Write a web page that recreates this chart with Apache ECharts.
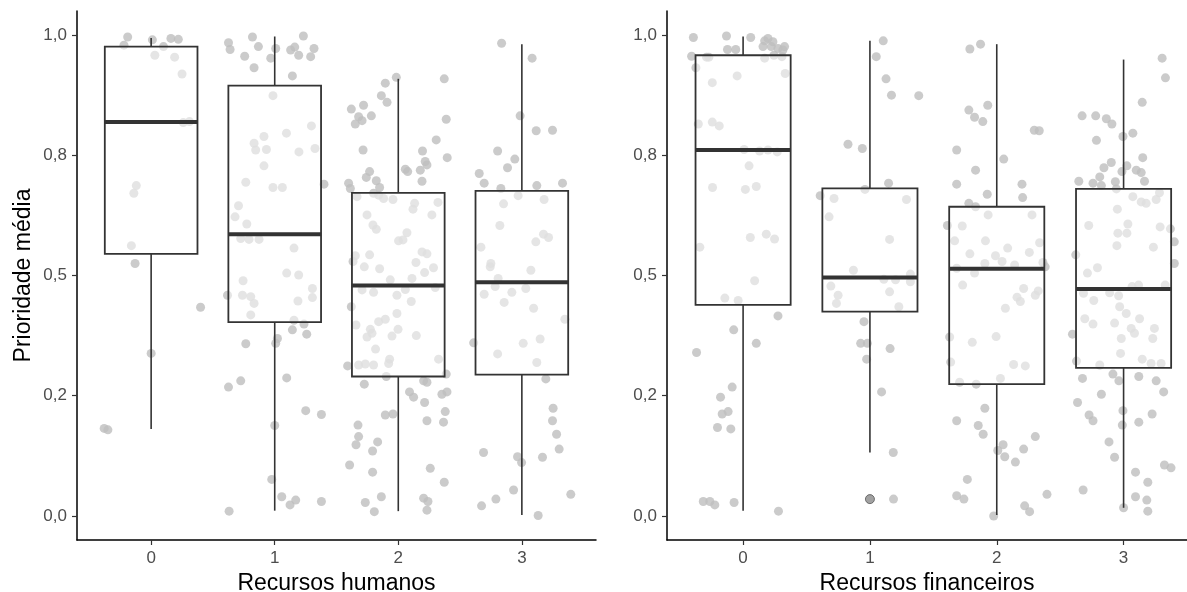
<!DOCTYPE html>
<html>
<head>
<meta charset="utf-8">
<script src="https://cdn.jsdelivr.net/npm/echarts@6/dist/echarts.min.js"></script>
<style>
html,body{margin:0;padding:0;background:#fff;}
#chart{width:1187px;height:592px;}
</style>
</head>
<body>
<div id="chart"></div>
<script>
// ---------- data ----------
const categories = ['0', '1', '2', '3'];
const categoryValues = [0, 1, 2, 3];
const yTickValues = [0, 0.25, 0.5, 0.75, 1];
const yTickLabels = ['0,0', '0,2', '0,5', '0,8', '1,0'];
const xTitleLeft = 'Recursos humanos';
const xTitleRight = 'Recursos financeiros';
const yTitle = 'Prioridade média';

// box stats per category: [lower whisker, Q1, median, Q3, upper whisker]
const boxHumanos = [
  [0.181, 0.545, 0.819, 0.976, 0.994],
  [0.011, 0.403, 0.586, 0.895, 0.997],
  [0.010, 0.290, 0.479, 0.672, 0.909],
  [0.002, 0.294, 0.486, 0.676, 0.981]
];
const boxFinanceiros = [
  [0.011, 0.439, 0.761, 0.958, 0.997],
  [0.132, 0.425, 0.496, 0.681, 0.988],
  [0.002, 0.274, 0.514, 0.643, 0.981],
  [0.017, 0.308, 0.472, 0.680, 0.949]
];
const outliersFinanceiros = [[1, 0.035]];

// jittered observations per category: [horizontal jitter, value]
const rh0 = [[-0.19,0.996],[-0.22,0.979],[0.01,0.990],[0.10,0.976],[0.16,0.993],[0.22,0.991],[0.03,0.958],[0.19,0.954],[0.25,0.919],[0.26,0.818],[0.31,0.820],[-0.12,0.687],[-0.14,0.671],[-0.16,0.562],[-0.13,0.525],[0.40,0.434],[0.00,0.338],[-0.38,0.182],[-0.35,0.179]];
const rh1 = [[-0.374,0.984],[-0.361,0.970],[-0.243,0.956],[-0.180,0.996],[-0.132,0.976],[-0.167,0.932],[-0.032,0.952],[0.008,0.972],[0.129,0.969],[0.162,0.975],[0.194,0.958],[0.232,0.998],[0.318,0.972],[0.291,0.955],[0.143,0.915],[-0.014,0.874],[-0.087,0.789],[0.095,0.796],[-0.167,0.775],[-0.154,0.761],[-0.067,0.762],[0.196,0.757],[0.297,0.811],[0.326,0.764],[-0.087,0.728],[-0.234,0.694],[-0.014,0.683],[0.062,0.683],[0.399,0.690],[-0.293,0.645],[-0.321,0.622],[-0.226,0.607],[-0.275,0.577],[-0.208,0.575],[-0.127,0.575],[0.156,0.557],[0.097,0.505],[0.194,0.501],[-0.256,0.489],[0.305,0.473],[-0.382,0.459],[-0.261,0.459],[-0.194,0.456],[0.305,0.454],[-0.167,0.442],[0.188,0.447],[-0.194,0.418],[0.156,0.407],[0.143,0.387],[0.237,0.399],[0.259,0.378],[0.022,0.369],[0.008,0.359],[-0.234,0.358],[0.097,0.287],[-0.374,0.268],[-0.275,0.281],[0.251,0.219],[0.378,0.211],[0.000,0.188],[-0.024,0.076],[0.057,0.040],[0.124,0.023],[0.170,0.033],[0.378,0.030],[-0.369,0.010]];
const rh2 = [[-0.380,0.846],[-0.281,0.854],[-0.321,0.830],[-0.348,0.815],[-0.293,0.822],[-0.218,0.832],[-0.105,0.900],[-0.137,0.874],[-0.091,0.860],[-0.016,0.912],[0.372,0.909],[0.388,0.825],[-0.285,0.761],[0.307,0.782],[0.196,0.759],[0.396,0.745],[0.218,0.737],[0.232,0.730],[0.178,0.719],[0.057,0.721],[0.076,0.716],[0.192,0.696],[-0.232,0.716],[-0.259,0.704],[-0.178,0.697],[-0.151,0.683],[-0.402,0.692],[-0.388,0.681],[-0.200,0.671],[-0.159,0.667],[-0.119,0.660],[-0.043,0.658],[-0.334,0.664],[0.132,0.650],[0.119,0.638],[0.321,0.652],[0.272,0.626],[-0.253,0.626],[-0.205,0.605],[-0.178,0.596],[0.070,0.589],[0.002,0.572],[0.038,0.574],[-0.348,0.541],[-0.366,0.529],[-0.232,0.543],[0.192,0.549],[0.232,0.545],[0.143,0.527],[-0.275,0.518],[-0.151,0.514],[0.285,0.516],[0.213,0.506],[-0.065,0.491],[0.111,0.494],[0.057,0.471],[-0.293,0.470],[-0.200,0.465],[-0.011,0.459],[0.299,0.475],[0.105,0.446],[-0.380,0.435],[-0.011,0.421],[-0.105,0.409],[-0.159,0.404],[-0.342,0.397],[-0.226,0.388],[-0.253,0.372],[-0.213,0.380],[-0.002,0.388],[-0.051,0.374],[0.146,0.375],[-0.184,0.347],[-0.070,0.326],[-0.078,0.317],[-0.321,0.314],[-0.267,0.316],[-0.200,0.314],[-0.410,0.312],[0.326,0.326],[0.388,0.295],[-0.097,0.290],[-0.275,0.274],[0.205,0.281],[0.232,0.278],[0.091,0.258],[0.124,0.247],[0.353,0.253],[0.394,0.258],[0.213,0.236],[-0.105,0.210],[-0.043,0.212],[0.380,0.217],[0.232,0.198],[0.366,0.195],[-0.326,0.189],[-0.321,0.165],[-0.342,0.148],[-0.167,0.154],[-0.208,0.135],[-0.394,0.106],[-0.208,0.091],[0.259,0.099],[0.372,0.070],[-0.267,0.028],[-0.194,0.009],[-0.137,0.040],[0.205,0.037],[0.240,0.030],[0.232,0.012]];
const rh3 = [[-0.164,0.983],[0.083,0.952],[-0.014,0.832],[0.116,0.801],[0.248,0.802],[-0.196,0.759],[-0.057,0.742],[-0.116,0.724],[-0.345,0.712],[-0.305,0.692],[-0.170,0.681],[-0.030,0.666],[0.121,0.687],[0.329,0.692],[-0.148,0.649],[0.180,0.658],[-0.178,0.604],[0.113,0.570],[0.175,0.586],[0.216,0.579],[-0.331,0.559],[-0.251,0.525],[-0.256,0.518],[0.073,0.511],[-0.192,0.494],[-0.216,0.477],[-0.305,0.461],[-0.081,0.465],[0.032,0.473],[-0.143,0.444],[0.095,0.432],[0.348,0.409],[-0.390,0.360],[-0.196,0.337],[0.011,0.359],[0.148,0.368],[0.121,0.319],[0.194,0.285],[0.253,0.224],[0.248,0.198],[0.281,0.170],[0.302,0.139],[-0.310,0.132],[-0.035,0.123],[-0.002,0.111],[0.167,0.122],[-0.067,0.054],[-0.210,0.035],[-0.326,0.021],[0.132,0.001],[0.396,0.045]];

const rf0 = [[-0.392,0.995],[-0.131,0.998],[0.060,0.995],[-0.123,0.970],[-0.058,0.970],[0.170,0.988],[0.196,0.993],[0.235,0.986],[0.157,0.976],[0.222,0.976],[0.275,0.972],[0.327,0.976],[0.314,0.969],[-0.406,0.956],[-0.288,0.954],[-0.270,0.954],[0.170,0.952],[0.243,0.958],[0.306,0.955],[-0.372,0.932],[0.332,0.920],[-0.047,0.915],[-0.243,0.901],[-0.353,0.815],[-0.243,0.819],[-0.188,0.811],[0.008,0.762],[0.196,0.761],[0.269,0.757],[0.130,0.759],[0.047,0.728],[-0.241,0.683],[0.018,0.679],[0.104,0.685],[0.057,0.579],[0.183,0.586],[0.248,0.576],[-0.341,0.559],[0.091,0.489],[-0.144,0.453],[-0.039,0.448],[0.275,0.416],[-0.074,0.387],[0.104,0.359],[-0.367,0.340],[-0.086,0.268],[-0.178,0.247],[-0.165,0.212],[-0.118,0.217],[-0.202,0.184],[-0.097,0.181],[-0.314,0.030],[-0.262,0.030],[-0.223,0.023],[-0.071,0.028],[0.279,0.010]];
const rf1 = [[0.105,0.988],[0.050,0.955],[0.127,0.909],[0.170,0.875],[0.385,0.874],[-0.173,0.773],[-0.060,0.764],[0.147,0.692],[-0.392,0.666],[-0.283,0.660],[-0.039,0.679],[0.288,0.658],[-0.322,0.622],[0.155,0.575],[-0.130,0.511],[0.319,0.503],[-0.308,0.478],[-0.251,0.459],[-0.264,0.442],[0.110,0.492],[0.202,0.491],[0.155,0.466],[0.319,0.487],[0.228,0.435],[-0.047,0.404],[-0.073,0.359],[-0.020,0.359],[-0.026,0.326],[0.159,0.348],[0.092,0.258],[0.184,0.132],[0.186,0.035]];
const rf2 = [[-0.212,0.971],[-0.128,0.981],[-0.220,0.844],[-0.175,0.829],[-0.110,0.820],[-0.071,0.854],[0.296,0.802],[0.335,0.801],[-0.316,0.761],[0.055,0.742],[-0.167,0.719],[-0.316,0.690],[-0.075,0.669],[0.199,0.690],[0.204,0.662],[-0.220,0.650],[-0.167,0.643],[-0.068,0.626],[0.278,0.626],[-0.389,0.604],[-0.272,0.603],[-0.332,0.572],[-0.089,0.572],[0.338,0.568],[0.086,0.557],[-0.212,0.545],[-0.010,0.541],[0.042,0.529],[-0.094,0.525],[0.257,0.548],[0.141,0.522],[0.364,0.527],[0.382,0.518],[-0.316,0.515],[-0.175,0.505],[-0.269,0.480],[0.212,0.473],[0.327,0.468],[0.160,0.455],[0.186,0.446],[0.304,0.459],[0.068,0.432],[-0.371,0.372],[-0.193,0.361],[-0.005,0.373],[-0.363,0.320],[0.133,0.315],[0.225,0.312],[-0.293,0.278],[-0.162,0.274],[0.029,0.286],[-0.094,0.224],[-0.316,0.198],[-0.146,0.188],[-0.107,0.170],[0.304,0.165],[0.050,0.148],[0.008,0.136],[0.063,0.123],[0.212,0.139],[0.147,0.112],[-0.232,0.076],[-0.316,0.042],[-0.259,0.035],[0.220,0.021],[0.259,0.009],[0.396,0.045],[-0.024,0.000]];
const rf3 = [[0.304,0.952],[0.330,0.911],[0.147,0.860],[-0.327,0.832],[-0.220,0.832],[-0.136,0.826],[-0.092,0.815],[-0.214,0.781],[-0.005,0.789],[0.073,0.796],[0.151,0.745],[-0.155,0.724],[-0.097,0.735],[-0.353,0.696],[-0.241,0.692],[-0.188,0.705],[-0.175,0.687],[-0.065,0.695],[-0.013,0.716],[0.026,0.728],[0.100,0.719],[0.139,0.714],[0.165,0.696],[-0.057,0.680],[0.283,0.672],[0.257,0.658],[0.073,0.664],[0.139,0.653],[0.178,0.650],[-0.049,0.638],[-0.275,0.604],[0.034,0.607],[-0.045,0.588],[0.026,0.588],[-0.053,0.562],[0.288,0.601],[0.369,0.597],[0.400,0.570],[0.400,0.525],[0.235,0.559],[-0.377,0.543],[-0.206,0.516],[-0.285,0.505],[-0.316,0.463],[-0.235,0.448],[-0.110,0.464],[-0.039,0.458],[0.067,0.477],[0.118,0.480],[0.328,0.480],[-0.031,0.435],[0.021,0.421],[0.126,0.410],[-0.306,0.410],[-0.241,0.399],[-0.071,0.401],[-0.403,0.378],[0.060,0.390],[0.086,0.380],[-0.018,0.369],[0.243,0.390],[0.230,0.369],[-0.371,0.322],[-0.024,0.338],[-0.188,0.314],[0.147,0.326],[0.217,0.317],[0.296,0.317],[-0.324,0.286],[-0.084,0.295],[-0.037,0.281],[0.120,0.290],[0.257,0.281],[0.316,0.258],[-0.175,0.253],[-0.363,0.236],[-0.005,0.219],[-0.010,0.189],[-0.272,0.210],[-0.241,0.198],[0.120,0.195],[0.225,0.212],[-0.115,0.154],[-0.071,0.122],[0.322,0.106],[0.374,0.100],[0.094,0.091],[0.191,0.070],[-0.319,0.054],[0.094,0.040],[0.183,0.033],[0.191,0.010],[0.000,0.017]];

// ---------- build ----------
const FONT = "'Liberation Sans', Arial, sans-serif";
function jitterData(groups) {
  const out = [];
  groups.forEach((g, ci) => g.forEach(p => out.push([categoryValues[ci] + p[0], p[1]])));
  return out;
}
function boxData(stats) {
  return stats.map((s, ci) => [categoryValues[ci]].concat(s));
}
function renderBox(params, api) {
  const c = api.value(0), lo = api.value(1), q1 = api.value(2), md = api.value(3), q3 = api.value(4), hi = api.value(5);
  const hw = 0.375;
  const pHi = api.coord([c, hi]), pQ3 = api.coord([c, q3]), pQ1 = api.coord([c, q1]), pLo = api.coord([c, lo]);
  const tl = api.coord([c - hw, q3]), br = api.coord([c + hw, q1]);
  const ml = api.coord([c - hw, md]), mr = api.coord([c + hw, md]);
  const stroke = '#333333';
  return {
    type: 'group',
    children: [
      { type: 'line', shape: { x1: pHi[0], y1: pHi[1], x2: pQ3[0], y2: pQ3[1] }, style: { stroke, lineWidth: 1.6 } },
      { type: 'line', shape: { x1: pQ1[0], y1: pQ1[1], x2: pLo[0], y2: pLo[1] }, style: { stroke, lineWidth: 1.6 } },
      { type: 'rect', shape: { x: tl[0], y: tl[1], width: br[0] - tl[0], height: br[1] - tl[1] },
        style: { fill: 'rgba(255,255,255,0.5)', stroke, lineWidth: 1.8 } },
      { type: 'line', shape: { x1: ml[0], y1: ml[1], x2: mr[0], y2: mr[1] }, style: { stroke, lineWidth: 4 } }
    ]
  };
}
function xAxisCfg(gi, max, name) {
  return {
    gridIndex: gi, type: 'value', min: -0.6, max: max,
    name: name, nameLocation: 'middle', nameGap: 29,
    nameTextStyle: { fontSize: 23, color: '#000', fontFamily: FONT },
    axisLine: { show: true, onZero: false, lineStyle: { color: '#000', width: 1.5 } },
    axisTick: { show: true, customValues: categoryValues, length: 5, lineStyle: { color: '#333', width: 1.2 } },
    axisLabel: { show: true, customValues: categoryValues, margin: 10, fontSize: 17, color: '#4d4d4d', fontFamily: FONT,
      formatter: v => categories[categoryValues.indexOf(v)] },
    splitLine: { show: false }
  };
}
function yAxisCfg(gi, name) {
  return {
    gridIndex: gi, type: 'value', min: -0.05, max: 1.05,
    name: name, nameLocation: 'middle', nameGap: 42,
    nameTextStyle: { fontSize: 23, color: '#000', fontFamily: FONT },
    axisLine: { show: true, onZero: false, lineStyle: { color: '#000', width: 1.5 } },
    axisTick: { show: true, customValues: yTickValues, length: 5, lineStyle: { color: '#333', width: 1.2 } },
    axisLabel: { show: true, customValues: yTickValues, margin: 10, fontSize: 17, color: '#4d4d4d', fontFamily: FONT,
      formatter: v => yTickLabels[yTickValues.indexOf(v)] },
    splitLine: { show: false }
  };
}
const pointStyle = { color: '#bebebe' };
const chart = echarts.init(document.getElementById('chart'), null, { renderer: 'canvas' });
chart.setOption({
  animation: false,
  backgroundColor: '#fff',
  grid: [
    { left: 77, width: 519, top: 11, height: 529, containLabel: false, outerBoundsMode: 'none' },
    { left: 667, width: 520, top: 11, height: 529, containLabel: false, outerBoundsMode: 'none' }
  ],
  xAxis: [xAxisCfg(0, 3.6, xTitleLeft), xAxisCfg(1, 3.5, xTitleRight)],
  yAxis: [yAxisCfg(0, yTitle), yAxisCfg(1, '')],
  series: [
    { type: 'scatter', xAxisIndex: 0, yAxisIndex: 0, symbolSize: 9, itemStyle: pointStyle, silent: true,
      data: jitterData([rh0, rh1, rh2, rh3]), z: 1 },
    { type: 'scatter', xAxisIndex: 1, yAxisIndex: 1, symbolSize: 9, itemStyle: pointStyle, silent: true,
      data: jitterData([rf0, rf1, rf2, rf3]), z: 1 },
    { type: 'custom', xAxisIndex: 0, yAxisIndex: 0, renderItem: renderBox, encode: { x: 0, y: [1, 2, 3, 4, 5] },
      data: boxData(boxHumanos), z: 2, silent: true },
    { type: 'custom', xAxisIndex: 1, yAxisIndex: 1, renderItem: renderBox, encode: { x: 0, y: [1, 2, 3, 4, 5] },
      data: boxData(boxFinanceiros), z: 2, silent: true },
    { type: 'scatter', xAxisIndex: 1, yAxisIndex: 1, symbolSize: 9, silent: true, z: 3,
      itemStyle: { color: '#8a8a8a', borderColor: '#555', borderWidth: 1 },
      data: outliersFinanceiros }
  ]
});
</script>
</body>
</html>
